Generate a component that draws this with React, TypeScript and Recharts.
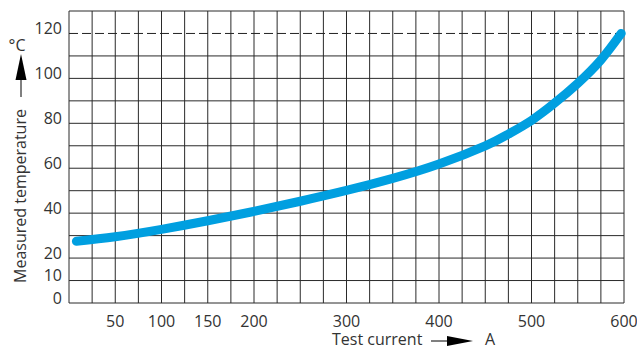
import { LineChart, Line, XAxis, YAxis, CartesianGrid, ReferenceLine } from "recharts";

const current = [8, 50, 100, 150, 200, 250, 300, 350, 400, 450, 475, 500, 525, 550, 575, 597];
const temperature = [27.5, 29.5, 32.8, 36.6, 40.8, 45.3, 50.1, 55.5, 61.9, 70, 75.2, 81.3, 89, 97.8, 108.2, 120];

const xGrid = [0, 25, 50, 75, 100, 125, 150, 175, 200, 225, 250, 275, 300, 325, 350, 375, 400, 425, 450, 475, 500, 525, 550, 575, 600];
const xLabels = [50, 100, 150, 200, 300, 400, 500, 600];
const yGrid = [0, 10, 20, 30, 40, 50, 60, 70, 80, 90, 100, 110, 130];
const yTicks = [0, 10, 20, 30, 40, 50, 60, 70, 80, 90, 100, 110, 120, 130];
const yLabels = [0, 10, 20, 40, 60, 80, 100, 120];
const limit = 120;

const data = current.map((c, i) => ({ current: c, temp: temperature[i] }));

const font = "'Open Sans', 'DejaVu Sans', sans-serif";
const textColor = "#333";
const gridColor = "#2a2a2a";

const XTick = ({ x, y, payload }: any) =>
  xLabels.includes(payload.value) ? (
    <text x={x} y={y} dy="0.355em" textAnchor="middle" fontSize={16} fontFamily={font} fill={textColor}>
      {payload.value}
    </text>
  ) : null;

const YTick = ({ x, y, payload }: any) =>
  yLabels.includes(payload.value) ? (
    <text x={x} y={y - 5} dy="0.355em" textAnchor="end" fontSize={16} fontFamily={font} fill={textColor}>
      {payload.value}
    </text>
  ) : null;

export default function App() {
  return (
    <div style={{ position: "absolute", left: 0, top: 0, width: 637, height: 349, background: "#fff" }}>
      <LineChart width={637} height={349} data={data} margin={{ top: 11, right: 13, bottom: 0, left: 0 }}>
        <CartesianGrid horizontal={false} stroke={gridColor} strokeOpacity={1} />
        <XAxis
          dataKey="current"
          type="number"
          domain={[0, 600]}
          ticks={xGrid}
          interval={0}
          height={46}
          tickSize={0}
          tickMargin={18}
          axisLine={false}
          tickLine={false}
          tick={<XTick />}
        />
        <YAxis
          type="number"
          domain={[0, 130]}
          ticks={yTicks}
          interval={0}
          width={69}
          tickSize={0}
          tickMargin={7}
          axisLine={false}
          tickLine={false}
          tick={<YTick />}
        />
        {yGrid.map((v) => (
          <ReferenceLine key={v} y={v} stroke={gridColor} strokeWidth={1} />
        ))}
        <ReferenceLine y={limit} stroke="#222" strokeDasharray="9 4" />
        <Line
          dataKey="temp"
          type="natural"
          stroke="#009fe0"
          strokeWidth={9}
          strokeLinecap="round"
          dot={false}
          activeDot={false}
          isAnimationActive={false}
        />
      </LineChart>
      <svg width={637} height={349} style={{ position: "absolute", left: 0, top: 0, pointerEvents: "none" }}>
        <text x={17} y={45} dy="0.355em" textAnchor="middle" fontSize={16} fontFamily={font} fill={textColor}>
          °C
        </text>
        <path d="M21 54 L26.5 80 L15.5 80 Z" fill="#000" />
        <line x1={21} y1={80} x2={21} y2={97} stroke="#000" strokeWidth={1} />
        <text
          transform="translate(20 196) rotate(-90)"
          dy="0.355em"
          textAnchor="middle"
          fontSize={16}
          fontFamily={font}
          fill={textColor}
        >
          Measured temperature
        </text>
        <text x={332} y={339} dy="0.355em" textAnchor="start" fontSize={16} fontFamily={font} fill={textColor}>
          Test current
        </text>
        <line x1={431} y1={341} x2={450} y2={341} stroke="#000" strokeWidth={1} />
        <path d="M447 336 L473 341 L447 346 Z" fill="#000" />
        <text x={490} y={339} dy="0.355em" textAnchor="middle" fontSize={16} fontFamily={font} fill={textColor}>
          A
        </text>
      </svg>
    </div>
  );
}
